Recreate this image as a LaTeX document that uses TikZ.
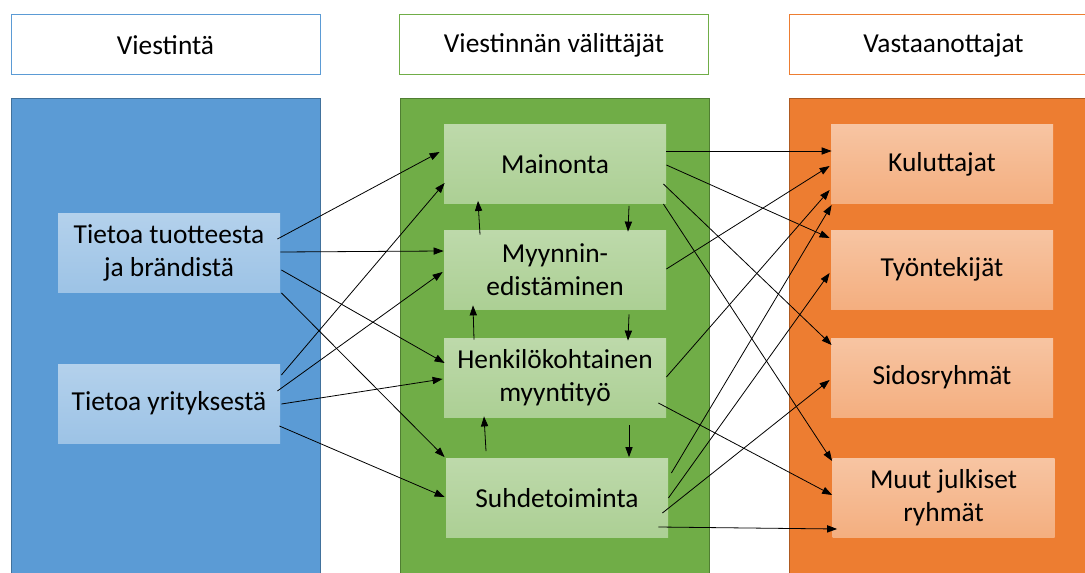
\documentclass[tikz,border=0pt]{standalone}
\usepackage{fontspec}
\setmainfont{Carlito}
\usepackage{tikz}
\usetikzlibrary{arrows.meta,calc,positioning}
\definecolor{pblue}{HTML}{5B9BD5}
\definecolor{pgreen}{HTML}{70AD47}
\definecolor{porange}{HTML}{ED7D31}
\definecolor{lblue}{HTML}{41719C}
\definecolor{lgreen}{HTML}{507E32}
\definecolor{lorange}{HTML}{AE5A21}

\begin{document}
\begin{tikzpicture}[x=0.5pt,y=-0.5pt,
  every node/.style={font=\fontsize{13.7}{16.5}\selectfont,align=center,inner sep=0pt},
  head/.style={draw=#1,line width=0.5pt,fill=white,minimum width=154.5pt,minimum height=30pt},
  panel/.style={fill=p#1,draw=l#1,line width=0.4pt},
  box/.style={minimum width=111pt,minimum height=39.5pt},
  bluebox/.style={box,top color=pblue!46!white,bottom color=pblue!60!white},
  greenbox/.style={box,top color=pgreen!46!white,bottom color=pgreen!58!white},
  orangebox/.style={box,top color=porange!45!white,bottom color=porange!62!white},
  conn/.style={-{Triangle[length=5pt,width=3.6pt]},line width=0.4pt}]
\useasboundingbox (0,0) rectangle (1085,572);
\clip (0,0) rectangle (1085,572);
\node[head=pblue] (hviest) at (165.5,45) {Viestintä};
\node[head=pgreen] (hvalit) at (554,45) {Viestinnän välittäjät};
\node[head=porange] (hvast) at (943.5,45) {Vastaanottajat};
\draw[panel=blue] (11,98) rectangle (320,600);
\draw[panel=green] (400,98) rectangle (709,600);
\draw[panel=orange] (789,98) rectangle (1098,600);
\node[bluebox] (tuote) at (169,253) {Tietoa tuotteesta\\ja brändistä};
\node[bluebox] (yritys) at (169,403.5) {Tietoa yrityksestä};
\node[greenbox] (mainonta) at (555,164) {Mainonta};
\node[greenbox] (myynnin) at (555,269.5) {Myynnin-\\edistäminen};
\node[greenbox] (henkilo) at (555,377.5) {Henkilökohtainen\\myyntityö};
\node[greenbox] (suhde) at (557,498) {Suhdetoiminta};
\node[orangebox] (kulut) at (942,164) {Kuluttajat};
\node[orangebox] (tyont) at (942,269.5) {Työntekijät};
\node[orangebox] (sidos) at (942,377.5) {Sidosryhmät};
\node[orangebox] (muut) at (943.5,498) {Muut julkiset\\ryhmät};
\draw[conn] ($(tuote.east)+(-3,-14)$) -- ($(mainonta.west)+(-4,-12)$);
\draw[conn] ($(tuote.east)+(0,-1)$) -- ($(myynnin.west)+(0,-18.5)$);
\draw[conn] ($(tuote.east)+(1,17)$) -- ($(henkilo.west)+(1,-14.5)$);
\draw[conn] ($(tuote.south east)+(1,0)$) -- ($(suhde.north west)+(-1,-1)$);
\draw[conn] ($(yritys.east)+(1,-28.5)$) -- ($(mainonta.west)+(1,19)$);
\draw[conn] ($(yritys.east)+(-3,-12.5)$) -- ($(myynnin.west)+(-1,2.5)$);
\draw[conn] ($(yritys.east)+(1,0.5)$) -- ($(henkilo.west)+(-1,1.5)$);
\draw[conn] ($(yritys.east)+(-1,22.5)$) -- ($(suhde.west)+(-1,-1)$);
\draw[conn] ($(myynnin.north)+(-75,5)$) -- ($(mainonta.south)+(-77,-3)$);
\draw[conn] ($(mainonta.south)+(74,2)$) -- ($(myynnin.north)+(73,2)$);
\draw[conn] ($(henkilo.north)+(-81,2)$) -- ($(myynnin.south)+(-82,-4)$);
\draw[conn] ($(myynnin.south)+(74,5)$) -- ($(henkilo.north)+(73,3)$);
\draw[conn] ($(suhde.north)+(-71,-7)$) -- ($(henkilo.south)+(-71,-1)$);
\draw[conn] ($(henkilo.south)+(74,8)$) -- ($(suhde.north)+(72,-1)$);
\draw[conn] ($(mainonta.east)+(0,-13)$) -- ($(kulut.west)+(1,-13)$);
\draw[conn] ($(mainonta.east)+(0,1)$) -- ($(tyont.west)+(-1,-31.5)$);
\draw[conn] ($(mainonta.east)+(-3,20)$) -- ($(sidos.west)+(1,-32.5)$);
\draw[conn] ($(mainonta.east)+(-3,40)$) -- ($(muut.west)+(0,-37)$);
\draw[conn] ($(myynnin.east)+(0,-0.5)$) -- ($(kulut.west)+(-1,2)$);
\draw[conn] ($(henkilo.east)+(0,-0.5)$) -- ($(kulut.west)+(-1,26)$);
\draw[conn] ($(henkilo.east)+(-8,25.5)$) -- ($(muut.west)+(0,-3)$);
\draw[conn] ($(suhde.east)+(3,-25)$) -- ($(kulut.west)+(1,41)$);
\draw[conn] (suhde.east) -- ($(tyont.west)+(-1,3.5)$);
\draw[conn] ($(suhde.east)+(-6,15)$) -- ($(sidos.west)+(-1,2.5)$);
\draw[conn] ($(suhde.east)+(-10,29)$) -- ($(muut.west)+(5,31)$);
\end{tikzpicture}
\end{document}
